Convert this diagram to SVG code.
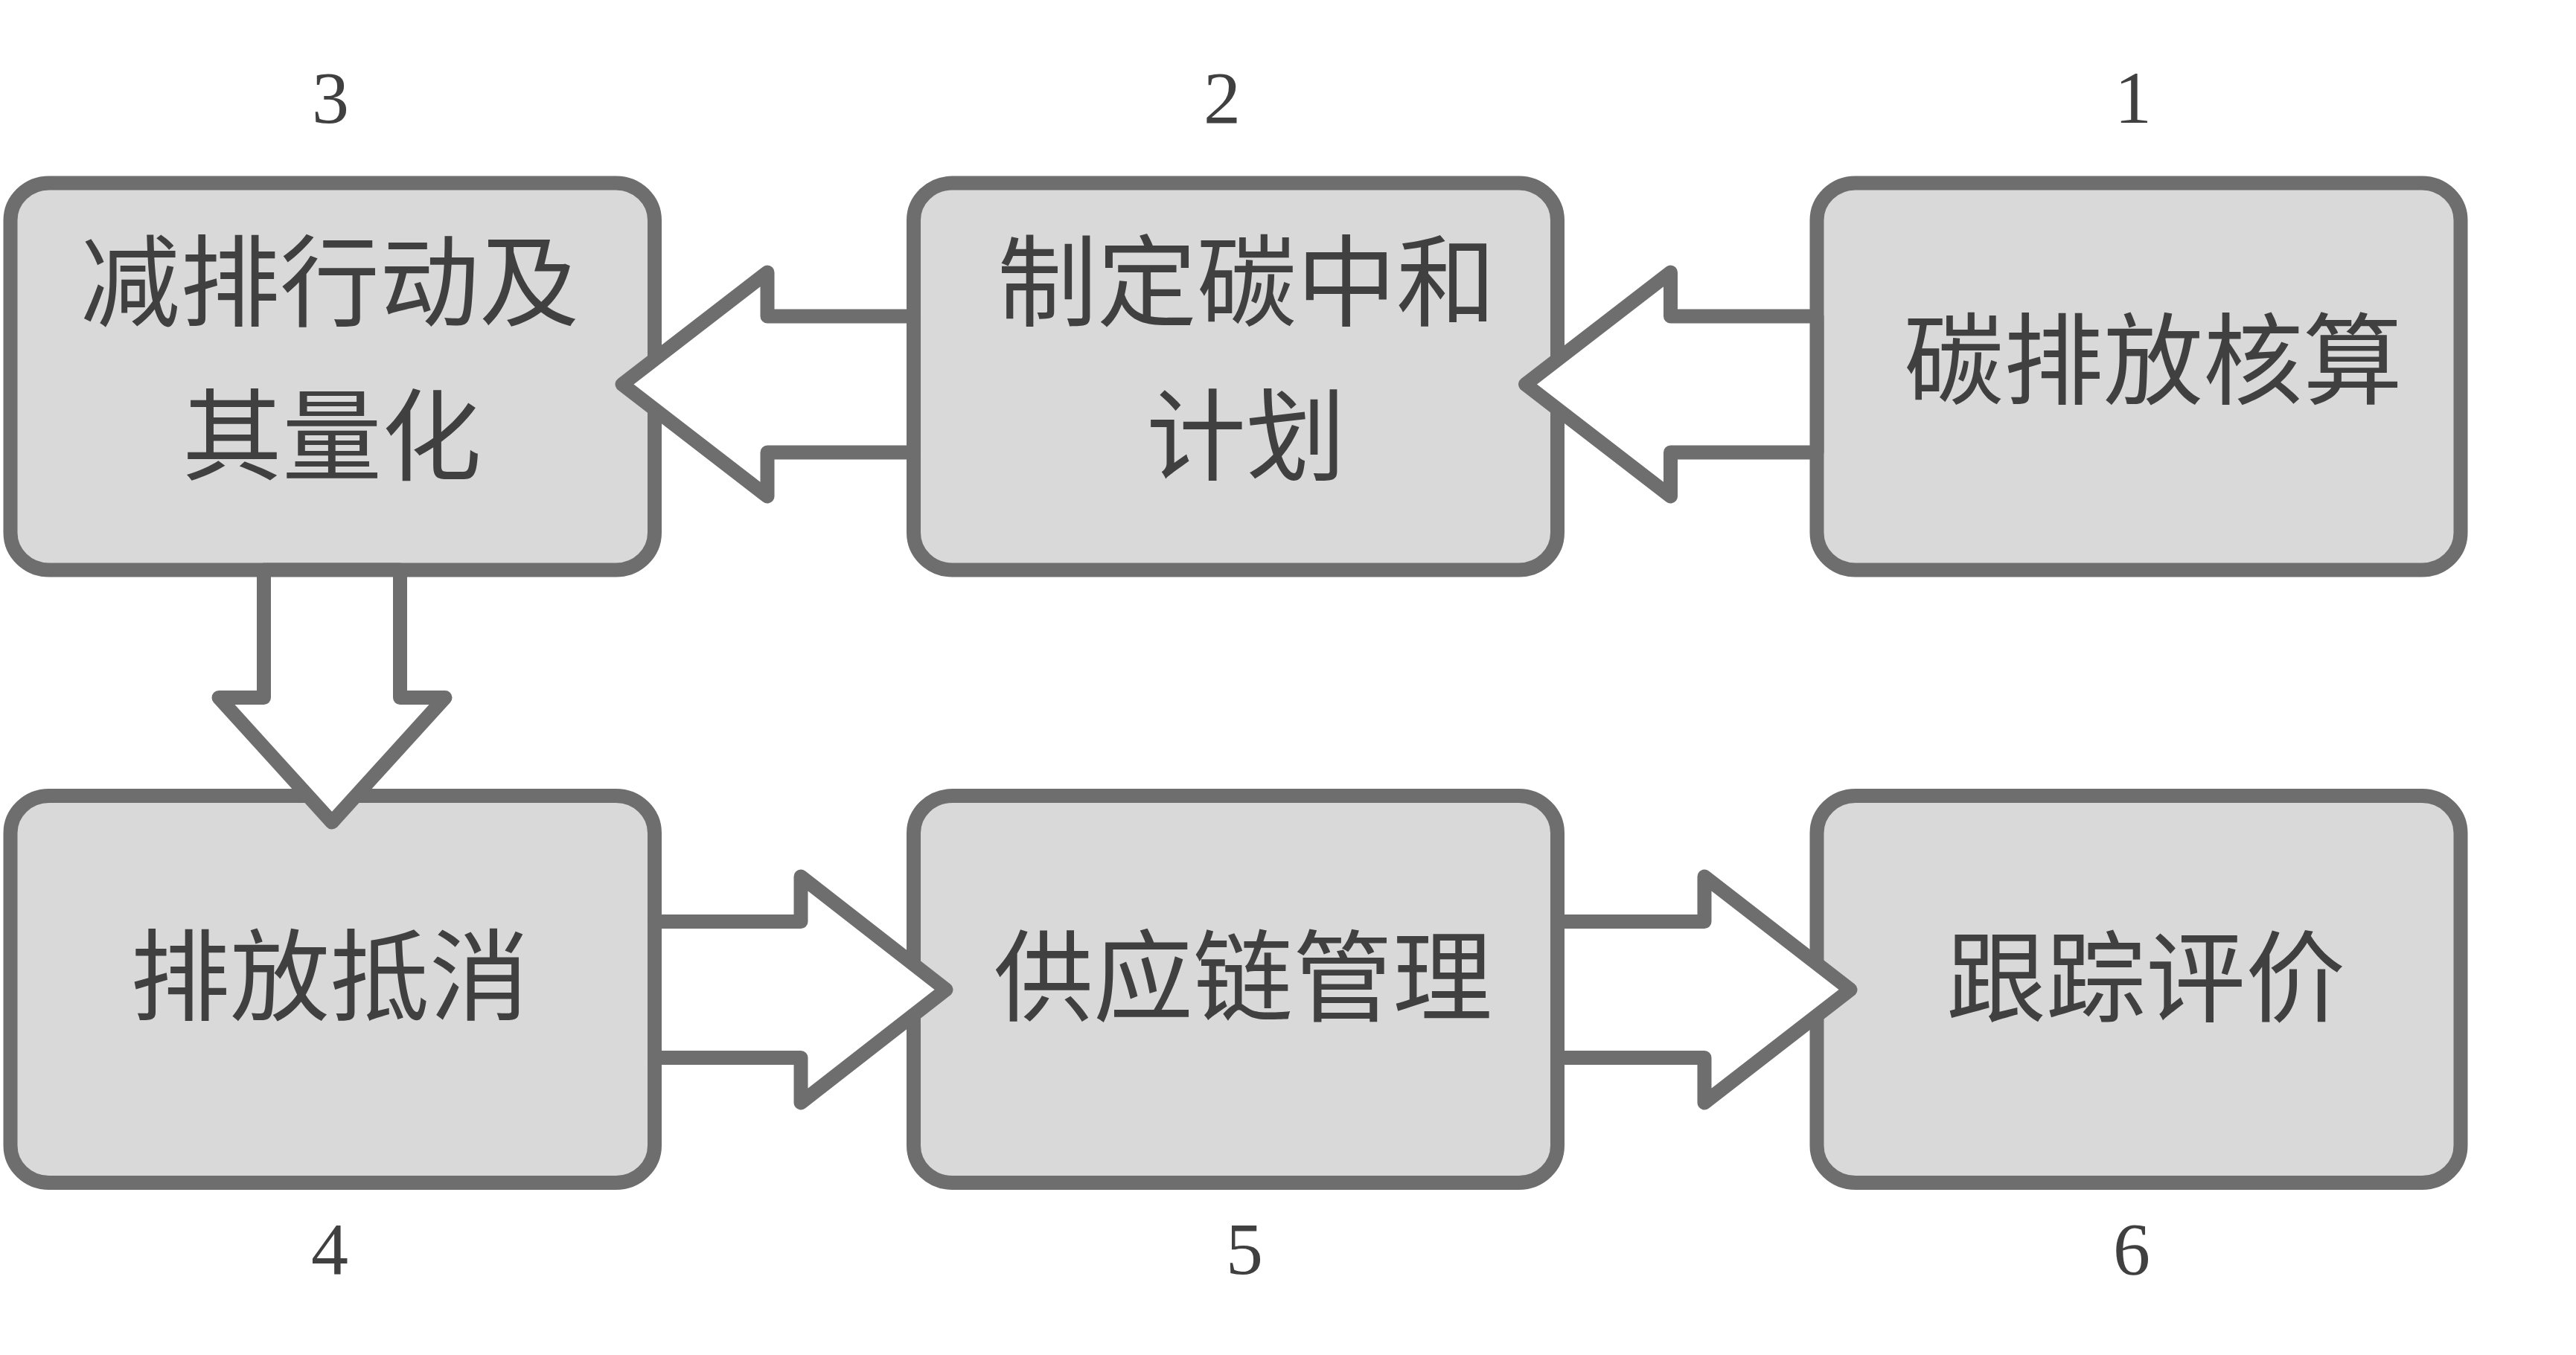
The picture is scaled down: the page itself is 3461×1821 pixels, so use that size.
<svg xmlns="http://www.w3.org/2000/svg" width="3461" height="1821" viewBox="0 0 3461 1821">
<style>
.box{fill:#d9d9d9;stroke:#6e6e6e;stroke-width:19}
.arr{fill:#ffffff;stroke:#6e6e6e;stroke-width:19;stroke-linejoin:round}
.lbl{font-family:"Noto Sans CJK SC","Noto Sans CJK JP",sans-serif;font-size:134px;fill:#404040;text-anchor:middle}
.num{font-family:"Liberation Serif",serif;font-size:100px;fill:#404040;text-anchor:middle}
</style>
<rect width="3461" height="1821" fill="#ffffff"/>
<g id="node1">
<rect class="box" x="2441" y="246" width="865" height="520" rx="52" ry="50"/>
<text class="lbl" x="2893" y="533">碳排放核算</text>
<text class="num" x="2866" y="165">1</text>
</g>
<g id="node2">
<rect class="box" x="1227.5" y="246" width="865" height="520" rx="52" ry="50"/>
<text class="lbl" x="1675" y="428">制定碳中和</text>
<text class="lbl" x="1674" y="635">计划</text>
<text class="num" x="1642" y="165">2</text>
</g>
<g id="node3">
<rect class="box" x="14" y="246" width="865.5" height="520" rx="52" ry="50"/>
<text class="lbl" x="443" y="428">减排行动及</text>
<text class="lbl" x="446" y="635">其量化</text>
<text class="num" x="444" y="165">3</text>
</g>
<g id="node4">
<rect class="box" x="14" y="1069.5" width="865.5" height="520" rx="52" ry="50"/>
<text class="lbl" x="443" y="1361">排放抵消</text>
<text class="num" x="443" y="1712">4</text>
</g>
<g id="node5">
<rect class="box" x="1227.5" y="1069.5" width="865" height="520" rx="52" ry="50"/>
<text class="lbl" x="1670" y="1362">供应链管理</text>
<text class="num" x="1672" y="1712">5</text>
</g>
<g id="node6">
<rect class="box" x="2441" y="1069.5" width="865" height="520" rx="52" ry="50"/>
<text class="lbl" x="2883" y="1363">跟踪评价</text>
<text class="num" x="2864" y="1712">6</text>
</g>
<g id="connectors">
<path class="arr" d="M2441,425 L2244.5,425 L2244.5,366 L2049.5,516.5 L2244.5,667 L2244.5,608 L2441,608 Z"/>
<path class="arr" d="M1227.5,425 L1031,425 L1031,366 L836,516.5 L1031,667 L1031,608 L1227.5,608 Z"/>
<path class="arr" d="M354.5,766 L354.5,937.5 L294,937.5 L446,1105 L598,937.5 L537.5,937.5 L537.5,766 Z"/>
<path class="arr" d="M879.5,1238.5 L1076,1238.5 L1076,1178 L1271,1330 L1076,1482 L1076,1421.5 L879.5,1421.5 Z"/>
<path class="arr" d="M2092.5,1238.5 L2290,1238.5 L2290,1178 L2486,1330 L2290,1482 L2290,1421.5 L2092.5,1421.5 Z"/>
</g>
</svg>
